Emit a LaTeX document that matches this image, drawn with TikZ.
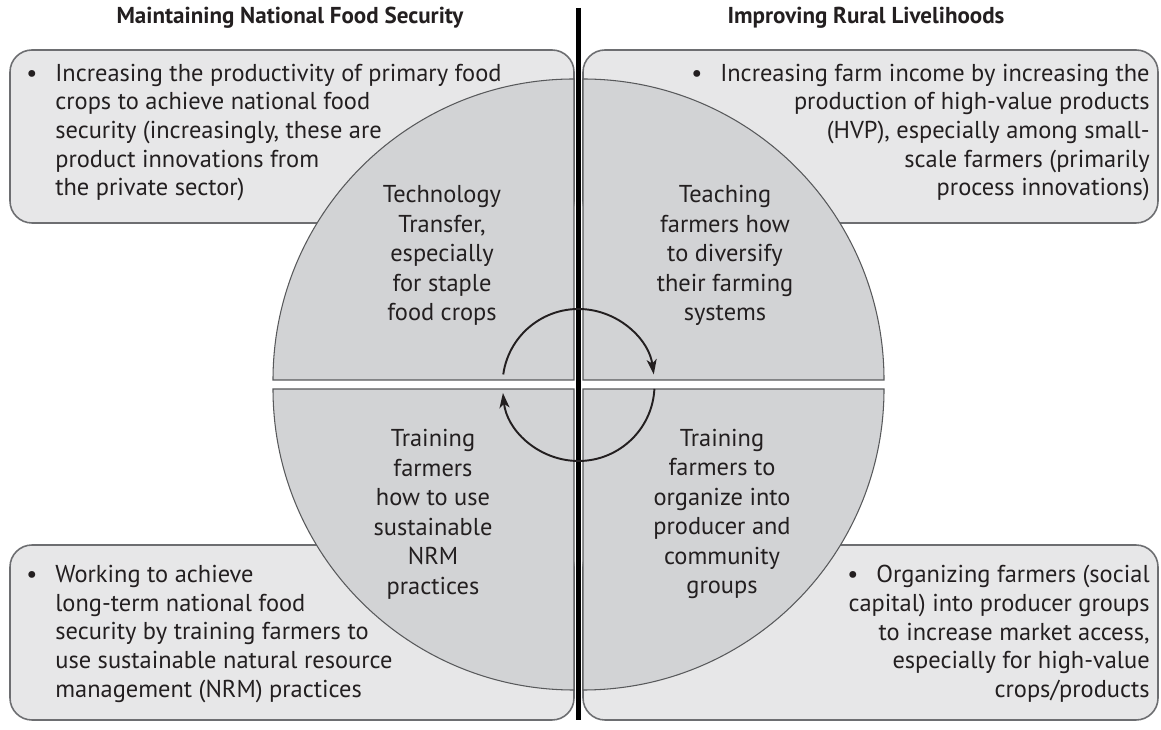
\documentclass[tikz,border=0pt]{standalone}
\usepackage{fontspec}
\setmainfont{PT Sans}
\usetikzlibrary{arrows.meta}
\definecolor{boxfill}{HTML}{E7E7E8}
\definecolor{quadfill}{HTML}{D2D3D5}
\definecolor{boxline}{HTML}{6D6E71}
\definecolor{quadline}{HTML}{58595B}
\definecolor{inkcol}{HTML}{231F20}
\tikzset{
  panel/.style={fill=boxfill, draw=boxline, line width=0.9pt, rounded corners=0.44cm},
  quarter/.style={fill=quadfill, draw=quadline, line width=0.6pt},
  boxtext/.style={text=inkcol, font=\fontsize{13.9}{16.3}\selectfont, inner sep=0pt},
  quadtext/.style={text=inkcol, font=\fontsize{13.9}{16.8}\selectfont, align=center, inner sep=0pt},
  headtext/.style={text=inkcol, font=\fontsize{13.1}{15}\selectfont\bfseries, inner sep=0pt},
  cyclearrow/.style={draw=inkcol, line width=1.1pt, -{Stealth[length=0.3cm, width=0.2cm, inset=0.08cm]}}
}
\newcommand{\bul}{\llap{\textbullet\hspace{0.36cm}}}
\begin{document}
\begin{tikzpicture}
\useasboundingbox (0,0) rectangle (23.22,14.58);

\draw[panel] (0.20,10.12) rectangle (11.48,13.58);
\draw[panel] (11.66,10.12) rectangle (23.16,13.58);
\draw[panel] (0.20,0.18) rectangle (11.48,3.68);
\draw[panel] (11.66,0.18) rectangle (23.16,3.68);

\draw[quarter] (11.48,6.98) -- ++(-6.02,0) arc[start angle=180, end angle=90, radius=6.02] -- cycle;
\draw[quarter] (11.66,6.98) -- ++(0,6.02) arc[start angle=90, end angle=0, radius=6.02] -- cycle;
\draw[quarter] (11.48,6.80) -- ++(0,-6.02) arc[start angle=270, end angle=180, radius=6.02] -- cycle;
\draw[quarter] (11.66,6.80) -- ++(6.02,0) arc[start angle=0, end angle=-90, radius=6.02] -- cycle;

\draw[line width=2.3pt] (11.57,14.42) -- (11.57,0.18);

\node[headtext] (hFood) at (5.80,14.22) {Maintaining National Food Security};
\node[headtext] (hRural) at (17.32,14.22) {Improving Rural Livelihoods};

\node[boxtext, anchor=west, align=left] (tStaple) at (1.10,11.93) {\bul Increasing the productivity of primary food\\crops to achieve national food\\security (increasingly, these are\\product innovations from\\the private sector)};
\node[boxtext, anchor=east, align=right] (tIncome) at (23.00,11.93) {\textbullet\hspace{0.36cm}Increasing farm income by increasing the\\production of high-value products\\(HVP), especially among small-\\scale farmers (primarily\\process innovations)};
\node[boxtext, anchor=west, align=left] (tResource) at (1.10,1.90) {\bul Working to achieve\\long-term national food\\security by training farmers to\\use sustainable natural resource\\management (NRM) practices};
\node[boxtext, anchor=east, align=right] (tCapital) at (23.00,1.90) {\textbullet\hspace{0.36cm}Organizing farmers (social\\capital) into producer groups\\to increase market access,\\especially for high-value\\crops/products};

\node[quadtext] (qTransfer) at (8.84,9.47) {Technology\\Transfer,\\especially\\for staple\\food crops};
\node[quadtext] (qDiversify) at (14.50,9.47) {Teaching\\farmers how\\to diversify\\their farming\\systems};
\node[quadtext] (qNRM) at (8.66,4.29) {Training\\farmers\\how to use\\sustainable\\NRM\\practices};
\node[quadtext] (qGroups) at (14.44,4.30) {Training\\farmers to\\organize into\\producer and\\community\\groups};

\coordinate (hub) at (11.57,6.88);
\draw[cyclearrow] (hub) ++(172:1.52) arc[start angle=172, end angle=8, radius=1.52];
\draw[cyclearrow] (hub) ++(-3:1.52) arc[start angle=-3, end angle=-174, radius=1.52];
\end{tikzpicture}
\end{document}
